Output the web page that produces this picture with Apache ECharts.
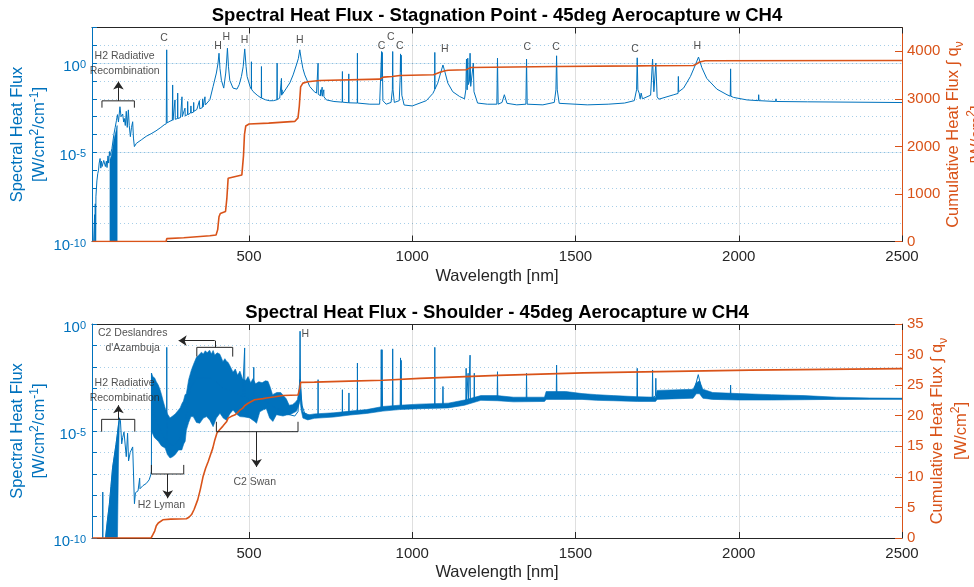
<!DOCTYPE html>
<html><head><meta charset="utf-8">
<script src="https://cdn.jsdelivr.net/npm/echarts@6/dist/echarts.min.js"></script>
<style>html,body{margin:0;padding:0;background:#fff}#c{width:974px;height:587px}</style>
</head><body><div id="c"></div>
<script>
// ---------------- DATA ----------------
// x tick labels (wavelength, nm)
const xTickValues = [500, 1000, 1500, 2000, 2500];
const topDecades = [1e-10,1e-9,1e-8,1e-7,1e-6,1e-5,1e-4,1e-3,1e-2,1e-1,1,10,100];
const botDecades = [1e-10,1e-9,1e-8,1e-7,1e-6,1e-5,1e-4,1e-3,1e-2,1e-1,1];
const logLabelValues = [1e-10, 1e-5, 1];
const topCumTicks = [0, 1000, 2000, 3000, 4000];
const botCumTicks = [0, 5, 10, 15, 20, 25, 30, 35];

// Stagnation point spectrum [wavelength nm, W/cm2/cm-1]
const stagSpectrum = [[20,1e-12],[26,1e-12],[27,3.2e-9],[28,1e-12],[29,1.3e-8],[30,1e-12],[31,3.2e-8],[34,2.5e-7],[36.6,6.3e-7],[39,1e-6],[41,2.5e-6],[43.7,4.5e-6],[46,1.3e-6],[48,3.2e-6],[50,1.6e-6],[52,2e-6],[55,3.5e-6],[57,3.5e-6],[60,1.6e-6],[63,3.2e-6],[65,1.4e-6],[68,6.3e-6],[70,2.5e-6],[72.5,1.1e-5],
[74,6.3e-6],[80,1.6e-5],[86,1e-4],[90,2.5e-4],[94,6.3e-4],[97,1.3e-3],
[100,5e-4],[104.6,3.6e-3],[108,1e-3],[113,1.4e-3],[116,5e-4],[118,7.9e-4],[121,3.2e-4],[124,2e-3],[127,2.5e-4],[130.4,2.4e-3],[133,3.2e-4],[136.5,7.6e-5],[140,2.5e-4],[143.6,5.2e-4],[146,6.3e-5],[148.8,2.1e-5],[155,3.2e-5],[160,3.5e-5],[170,5e-5],[185,7.9e-5],[200,1.1e-4],[215,1.6e-4],[230,2.5e-4],[240,3.5e-4],[246.5,4e-4],[247.8,5.6],[249,4.5e-4],[258,5.6e-4],[265,6.3e-4],[266,6e-2],[267,6.3e-4],[272.5,7.1e-4],[273.2,8.7e-3],[274,7.1e-4],[281,7.9e-4],[281.5,2.1e-2],[282,7.9e-4],[290,8.9e-4],[294.6,1.3e-2],[295.5,1e-3],[303.8,3e-3],[304.5,1.1e-3],[311.5,1.3e-3],[312,7.1e-3],[313,1.3e-3],[321,1.6e-3],[322,4e-3],[323,1.6e-3],[330,1.8e-3],[330.5,6.3e-3],[331,2e-3],[340,2.5e-3],[348,7.9e-3],[349,2.8e-3],[357,3.2e-3],[358,1e-2],[359,3.5e-3],[365,1.3e-2],[366,4.5e-3],[370,5.6e-3],[380,8.9e-3],[390,5e-2],[400,0.28],[405,1],[408,3.6],[411,0.5],[415.4,0.11],[422.5,4e-2],[428.6,0.28],[431,1],[433.8,6.9],[437,0.63],[441,0.11],[451,4e-2],[463,3.5e-2],[470,6.3e-2],[476.7,0.18],[482,0.63],[486.8,6.3],[491,0.63],[494,0.18],[503,5e-2],[507,3.5e-2],[507.3,1.2],[507.7,3.5e-2],[512,2.6e-2],[525,1.6e-2],[537.5,1.1e-2],[538,0.65],[538.5,1.1e-2],[550,8.9e-3],[563,7.8e-3],[575,7.9e-3],[585.5,8.9e-3],[586,1],[586.5,8.9e-3],[594,1.1e-2],[599,1.4e-2],[599.3,0.14],[600,1.6e-2],[601,3.2e-2],[602,1.8e-2],[614.6,4e-2],[625,7.9e-2],[635,0.22],[645,0.79],[651,1.8],[655.4,5.6],[660,1.6],[665,0.5],[670.7,0.22],[686,4.9e-2],[700,2.5e-2],[706.6,2.1e-2],[711,1.8e-2],[711.5,1],[712,1.8e-2],[718.5,1.5e-2],[719,3.2e-2],[719.5,1.5e-2],[723.5,1.4e-2],[724,4.5e-2],[724.5,1.4e-2],[728.5,1.3e-2],[729,3.2e-2],[729.5,1.3e-2],[737,8.7e-3],[760,7.1e-3],[785.5,6.5e-3],[786,0.34],[786.5,6.5e-3],[805,6e-3],[805.5,0.25],[806,6e-3],[831.5,5.8e-3],[832,3.6],[832.5,5.8e-3],[870,5e-3],[900,5e-3],[904,6.3e-3],[906,4.5],[907,0.1],[908,4],[910,7.9e-3],[920,5e-3],[935,6.3e-3],[939,3.2e-2],[940,4.5],[941,3.2e-2],[945,6.3e-3],[960,7.9e-3],[963,0.16],[964,3.3],[965,0.32],[966,2.8],[968,1.6e-2],[975,4.5e-3],[1000,4e-3],[1043,7.9e-3],[1063,2e-2],[1068.5,3.2e-2],[1069,4],[1069.5,3.5e-2],[1078,7.6e-2],[1086,0.25],[1094,0.79],[1100,0.32],[1109,7.6e-2],[1124,2.5e-2],[1145,1.35e-2],[1160,1e-2],[1164,3.2e-2],[1166,1.7],[1168,3.2e-2],[1170,1.9],[1172,6.3e-2],[1175,0.1],[1177,3.6],[1179,5e-2],[1185,4e-2],[1187,1],[1189,2.5e-2],[1200,5.8e-3],[1230,5e-3],[1259,5e-3],[1261,1.9],[1263,5e-3],[1275,6.3e-3],[1282,1.7e-2],[1290,5.6e-3],[1320,4.6e-3],[1348,5e-3],[1350,1.7],[1352,5e-3],[1400,4.6e-3],[1435,6.3e-3],[1440,3.2e-2],[1442,2.6],[1444,3.2e-2],[1450,5.6e-3],[1536,4.6e-3],[1600,5e-3],[1650,5.8e-3],[1680,7.9e-3],[1687,3.2e-2],[1689,2],[1691,3.2e-2],[1695,2.1e-2],[1698,1e-2],[1701,2.1e-2],[1705,1e-2],[1730,1.6e-2],[1736,1.7],[1740,2.5e-2],[1746,1],[1750,1.3e-2],[1755,9.5e-3],[1801,1.7e-2],[1814,2e-2],[1815,0.18],[1816,2.5e-2],[1831,4e-2],[1852,0.18],[1867,0.79],[1876.7,2.2],[1887,0.56],[1902,0.14],[1933,3.5e-2],[1964,1.7e-2],[1974,1.4e-2],[1975,0.48],[1976,1.4e-2],[1984,1.2e-2],[2025,8.7e-3],[2060,7.9e-3],[2061,1.7e-2],[2062,7.9e-3],[2113,7.1e-3],[2114,1e-2],[2115,7.1e-3],[2210,6.8e-3],[2500,6.2e-3]];
// dense H2 radiative-recombination block (upper / lower envelope)
const stagBandUpper = [[74,4e-6],[76,5e-6],[78,6.3e-6],[82,1.6e-5],[86,5e-5],[90,1e-4],[94,2e-4],[96,3.2e-4]];
const stagBandLower = [[74,1e-10],[96,1e-10]];
// cumulative heat flux, stagnation [nm, W/cm2]
const stagCumulative = [[20,0],[246,0],[248,60],[300,80],[380,120],[399,137],[404,250],[408,520],[412,590],[428,630],[432,900],[436,1330],[440,1370],[478,1400],[483,1800],[486,2250],[490,2430],[500,2470],[560,2490],[640,2525],[650,2600],[654,2850],[658,3250],[665,3330],[680,3360],[717,3385],[900,3414],[906,3440],[912,3456],[938,3470],[942,3485],[962,3492],[1065,3505],[1070,3540],[1085,3560],[1100,3589],[1110,3600],[1165,3612],[1172,3635],[1180,3659],[1440,3680],[1445,3688],[1690,3692],[1736,3697],[1861,3701],[1870,3730],[1880,3775],[1897,3800],[2500,3806]];

// Shoulder spectrum centre trace with lines
const shoulderSpectrum = [[20,1e-12],[51.5,1e-12],[52,1.4e-8],[52.5,1e-12],[58,1e-12],[62,1.6e-10],[66,6.3e-10],[72,3.6e-9],[77,2.5e-8],[82,1.9e-7],[87,6.3e-7],[92.4,2.3e-6],[97,7.9e-6],[102.8,4.1e-5],[106,3.2e-5],[110,2.5e-6],[113,5e-6],[117,8.9e-6],[121,1.1e-5],[124,6.3e-7],[128,7.9e-6],[131,4e-7],[136,1e-6],[143.6,1.8e-6],[149,4e-9],[152,1.3e-8],[160,1.6e-8],[165,6.3e-8],[166,2e-8],[175,2.8e-8],[185,3.5e-8],[194,5.2e-8],[199,8.9e-8],[201,1.3e-7],[201.5,5e-3],
[205,1e-4],[220,2e-5],[240,5e-6],[247.5,3e-6],[248,8.1e-2],[248.5,3e-6],[270,2e-6],[290,5e-6],[300,1e-5],[320,1e-3],[340,3e-3],[360,3e-3],[380,3e-3],[400,2e-3],[420,1e-3],[440,8e-4],[460,6e-4],[480,4e-4],[486,4e-4],[486.6,7.6e-2],[487.2,4e-4],[500,3e-4],[514,2e-4],[514.5,9.5e-3],[515,2e-4],[540,3e-4],[560,2e-4],[580,1.2e-4],[600,1e-4],[620,6e-5],[640,5e-5],[650,8e-5],[655,2e-3],[656.3,0.46],[657.5,2e-3],[662,1.6e-4],[670,7e-5],[690,5e-5],[711,5.2e-5],[711.5,2.5e-3],[712,5.2e-5],[760,5.5e-5],[785.5,6e-5],[786,8.5e-4],[786.5,6e-5],[805.5,6.5e-5],[806,6e-4],[806.5,6.5e-5],[831.5,7e-5],[832,1.5e-2],[832.5,7e-5],[880,8.5e-5],[904,9.5e-5],[905,6.3e-2],[906,1e-4],[907.5,6.3e-2],[909,1e-4],[939,1.1e-4],[940,6.9e-2],[941,1.1e-4],[963,1.2e-4],[964,2.6e-2],[965,1.2e-4],[966,2e-2],[967,1.2e-4],[1020,1.4e-4],[1068.5,1.5e-4],[1069,8.1e-2],[1069.5,1.5e-4],[1093,1.5e-4],[1094,1.2e-3],[1095,1.5e-4],[1164,2e-4],[1165,8.5e-3],[1166,2e-4],[1170,2.1e-4],[1171,5e-3],[1172,2.1e-4],[1176,2.2e-4],[1177,3.5e-2],[1178,2.2e-4],[1189,2.5e-4],[1190,5e-3],[1191,2.5e-4],[1210,3.5e-4],[1260,3.4e-4],[1261,5.9e-3],[1262,3.4e-4],[1310,2.9e-4],[1349,3e-4],[1350,5e-3],[1351,3e-4],[1405,3e-4],[1410,5e-4],[1441,4.5e-4],[1442,1.2e-2],[1443,4.5e-4],[1520,4.2e-4],[1616,3.3e-4],[1688,3e-4],[1689,8.5e-3],[1690,3e-4],[1735,3.6e-4],[1736,7.1e-3],[1737,3.6e-4],[1745,4.5e-4],[1746,2.9e-3],[1747,4.5e-4],[1860,5e-4],[1876,4.3e-3],[1890,5e-4],[1920,4.2e-4],[1974,3.8e-4],[1975,1.4e-3],[1976,3.8e-4],[2100,3.4e-4],[2300,3.2e-4],[2500,3.2e-4]];
// dense bands of the shoulder spectrum: upper and lower envelopes
const shoulderRecombUpper = [[60,1e-10],[66,6.3e-10],[72,3.6e-9],[77,2.5e-8],[82,1.9e-7],[87,6.3e-7],[92.4,2.3e-6],[97,7.9e-6],[100,2e-5],[102.8,4.1e-5]];
const shoulderRecombLower = [[60,1e-10],[97,1e-10],[100,3.2e-7],[102.8,2.5e-5]];
const shoulderBandUpper = [[201,5e-3],[205,3.5e-3],[211,3e-3],[216,2e-3],[222,1.4e-3],[227,8.9e-4],[232,5e-4],[237,2.5e-4],[243,1.2e-4],[250,6.3e-5],[258,4.1e-5],[266,5e-5],[274,6.3e-5],[282,8.9e-5],[289,1.2e-4],[295,2e-4],[299,2.5e-4],[304,5e-4],[308,5.5e-4],[315,2.5e-3],[323,6.8e-3],[330,1.3e-2],[339,2.8e-2],[346,3.5e-2],[354,4.8e-2],[360,4e-2],[366,5.6e-2],[372,4.5e-2],[379,6e-2],[385,4e-2],[390,5.8e-2],[395,3.5e-2],[402,4.5e-2],[410,4e-2],[416,2.5e-2],[420,1.7e-2],[426,2.4e-2],[431,1.8e-2],[436,1.6e-2],[443,1e-2],[451,5.6e-3],[458,7.9e-3],[465,4e-3],[472,6.3e-3],[480,2.8e-3],[490,2.3e-3],[497,3.5e-3],[505,1.8e-3],[512,2.8e-3],[520,1.6e-3],[530,2e-3],[540,1.8e-3],[550,2.2e-3],[558,2.1e-3],[565,1.1e-3],[572,5e-4],[585,6.3e-4],[597,6.3e-4],[605,4.5e-4],[614,3.2e-4],[623,1.6e-4],[633,1.7e-4],[642,2.2e-4],[648,2.9e-4],[652,6.3e-4],[656,2.5e-3]];
const shoulderBandLower = [[201,1e-5],[210,5e-6],[222,3.3e-6],[232,2e-6],[243,1.6e-6],[250,7.9e-7],[258,5.5e-7],[266,6.3e-7],[274,7.9e-7],[284,1.3e-6],[294,1.3e-6],[300,2.5e-6],[304.5,3.3e-6],[308,1.1e-5],[315,2.5e-5],[322,4.7e-5],[329,4.7e-5],[339,2.5e-5],[349,2.3e-5],[360,4e-5],[370,4.7e-5],[380,3.2e-5],[390,1.6e-5],[400,4e-5],[411,6.8e-5],[421,4e-5],[431,3.2e-5],[441,6.3e-5],[451,9.5e-5],[461,6.3e-5],[472,4.7e-5],[487,4.5e-5],[502,4.1e-5],[517,2.8e-5],[523,2.3e-5],[533,7.9e-5],[545,1e-4],[553,1.1e-4],[563,4.1e-5],[573,2.8e-5],[584,5.8e-5],[604,5e-5],[615,5.6e-5],[625,5.8e-5],[645,8.3e-5],[653,1.7e-4],[656,2.5e-4]];
const shoulderContUpper = [[656,2.5e-3],[660,3.5e-4],[665,7.9e-5],[680,5.6e-5],[700,6.3e-5],[760,7.1e-5],[810,8.5e-5],[860,1e-4],[910,1.4e-4],[960,1.6e-4],[1020,1.8e-4],[1110,2e-4],[1160,2.8e-4],[1210,4.5e-4],[1260,4.5e-4],[1310,3.8e-4],[1405,3.8e-4],[1410,7e-4],[1470,7e-4],[1520,5.6e-4],[1565,5e-4],[1616,4.5e-4],[1690,4e-4],[1745,3.8e-4],[1750,7.9e-4],[1860,8.9e-4],[1870,1.8e-3],[1880,2.2e-3],[1890,9e-4],[1920,6.3e-4],[2000,5.6e-4],[2100,5e-4],[2200,4.5e-4],[2300,3.8e-4],[2400,3.5e-4],[2500,3.4e-4]];
const shoulderContLower = [[656,3e-4],[660,8.9e-5],[665,4e-5],[680,3.3e-5],[700,3.9e-5],[760,4.5e-5],[810,5.6e-5],[860,6.6e-5],[910,8.5e-5],[960,1e-4],[1020,1.1e-4],[1110,1.2e-4],[1160,1.6e-4],[1210,2.7e-4],[1260,2.6e-4],[1310,2.3e-4],[1405,2.4e-4],[1410,3e-4],[1470,3e-4],[1520,3e-4],[1565,2.7e-4],[1616,2.6e-4],[1690,2.4e-4],[1745,2.4e-4],[1750,3e-4],[1860,3.4e-4],[1870,5.5e-4],[1880,5.5e-4],[1890,3.4e-4],[1920,3e-4],[2000,2.8e-4],[2100,2.8e-4],[2200,2.9e-4],[2300,3e-4],[2400,3.05e-4],[2500,3.05e-4]];
// cumulative heat flux, shoulder [nm, W/cm2]
const shoulderCumulative = [[20,0],[200,0],[205,0.5],[211,1.14],[216,2.0],[222,2.45],[227,2.65],[236,2.98],[260,3.08],[308,3.15],[316,3.4],[324,3.84],[332,4.7],[339,5.7],[343,6.28],[351,8.0],[359,10.0],[367,11.4],[375,12.5],[382,13.6],[389,14.7],[395,16.0],[402,17.2],[410,17.7],[420,18.3],[431,19.0],[436,19.6],[446,19.9],[456,20.1],[465,20.5],[472,20.9],[480,21.2],[486,21.6],[496,22.0],[502,22.2],[517,22.6],[543,22.8],[553,22.9],[580,23.1],[604,23.3],[650,23.4],[654,23.7],[656,24.6],[658,25.45],[700,25.5],[807,25.66],[911,25.8],[1023,26.1],[1263,26.6],[1524,27.0],[2035,27.45],[2500,27.7]];

// annotation texts [wavelength, flux, text]
const stagLineLabels = [[239.5,27,'C'],[405,9.3,'H'],[430.7,29,'H'],[486,20,'H'],[655.4,20,'H'],[905.8,8.5,'C'],[934.3,29,'C'],[962,8.5,'C'],[1099.8,6.2,'H'],[1352,7.6,'C'],[1440,7.6,'C'],[1682,6.2,'C'],[1873,8.5,'H']];
const stagNotes = [[119,1,'H2 Radiative\nRecombination']];
const shoulderNotes = [[143.6,0.164,"C2 Deslandres\nd'Azambuja"],[119,7.9e-4,'H2 Radiative\nRecombination'],[231.5,3.5e-9,'H2 Lyman'],[517.5,4.3e-8,'C2 Swan']];
const shoulderLineLabels = [[660.6,0.32,'H']];
// brackets and arrows (data coordinates)
const stagBracket = [[49.5,3.2e-3],[49.5,7.7e-3],[148.8,7.7e-3],[148.8,3.2e-3]];
const stagArrows = [[[100,7.7e-3],[100,9.3e-2]]];
const recombBracket = [[48.5,9.3e-6],[48.5,3.5e-5],[150,3.5e-5],[150,9.3e-6]];
const lymanBracket = [[201,2.6e-7],[201,9.8e-8],[300,9.8e-8],[300,2.6e-7]];
const swanBracket = [[400,2.7e-5],[400,9.3e-6],[650,9.3e-6],[650,2.7e-5]];
const deslBracket = [[340,3e-2],[340,8.1e-2],[450,8.1e-2],[450,3e-2]];
const deslConnector = [[395,8.1e-2],[395,0.166]];
const shoulderArrows = [[[100,3.5e-5],[100,1.6e-4]],[[251,9.8e-8],[251,7.2e-9]],[[523,9.3e-6],[523,2.1e-7]],[[395,0.166],[284.5,0.166]]];

// ---------------- CHART ----------------
const BLUE = '#0072BD', ORANGE = '#D95319', INK = '#262626';
const FONT = '"Liberation Sans", Arial, Helvetica, sans-serif';
const chart = echarts.init(document.getElementById('c'), null, {renderer: 'canvas'});

const supRich = (color) => ({
  b: {fontSize: 15, color: color, fontFamily: FONT, lineHeight: 15, padding: [8, 0, 0, 0]},
  s: {fontSize: 11, color: color, fontFamily: FONT, lineHeight: 11, verticalAlign: 'top', padding: [4, 0, 0, 0]}
});
function xAxisDef(gi, pos) {
  const bottom = pos === 'bottom';
  return {
    type: 'value', gridIndex: gi, position: pos, min: 19, max: 2500,
    axisLine: {show: true, onZero: false, lineStyle: {color: INK, width: 1}},
    axisTick: {show: true, inside: true, length: 6, customValues: xTickValues, lineStyle: {color: INK}},
    axisLabel: {show: bottom, customValues: xTickValues, margin: 8, color: INK, fontSize: 15, fontFamily: FONT, formatter: v => String(v)},
    splitLine: {show: bottom, lineStyle: {color: 'rgba(38,38,38,0.15)', width: 1}},
    name: bottom ? 'Wavelength [nm]' : '', nameLocation: 'middle', nameGap: 26, nameMoveOverlap: false,
    nameTextStyle: {color: INK, fontSize: 16.5, fontFamily: FONT}
  };
}
function logAxisDef(gi, max, decades) {
  return {
    type: 'log', logBase: 10, gridIndex: gi, position: 'left', min: 1e-10, max: max,
    axisLine: {show: true, onZero: false, lineStyle: {color: BLUE, width: 1}},
    axisTick: {show: true, inside: true, length: 5, customValues: decades, lineStyle: {color: BLUE}},
    axisLabel: {customValues: logLabelValues, margin: 6, formatter: v => '{b|10}{s|' + Math.round(Math.log10(v)) + '}', rich: supRich(BLUE)},
    splitLine: {show: true, lineStyle: {type: [1, 3], color: 'rgba(0,114,189,0.35)', width: 1}},
    name: '{n|Spectral Heat Flux}\n{n|[W/cm}{s|2}{n|/cm}{s|-1}{n|]}',
    nameLocation: 'middle', nameRotate: 90, nameGap: 41, nameMoveOverlap: false,
    nameTextStyle: {color: BLUE, fontSize: 16.5, fontFamily: FONT, rich: {
      n: {fontSize: 16.5, color: BLUE, fontFamily: FONT, lineHeight: 22.5},
      s: {fontSize: 12, color: BLUE, fontFamily: FONT, lineHeight: 12, verticalAlign: 'top'}
    }}
  };
}
function majorLogAxisDef(gi, max) {
  return {
    type: 'log', logBase: 10, gridIndex: gi, position: 'left', min: 1e-10, max: max,
    axisLine: {show: false}, axisLabel: {show: false},
    axisTick: {show: false, customValues: [1e-5, 1]},
    splitLine: {show: true, lineStyle: {type: 'solid', color: 'rgba(0,114,189,0.15)', width: 1}}
  };
}
function cumAxisDef(gi, max, ticks, gap) {
  return {
    type: 'value', gridIndex: gi, position: 'right', min: 0, max: max,
    axisLine: {show: true, onZero: false, lineStyle: {color: ORANGE, width: 1}},
    axisTick: {show: true, inside: true, length: 7, customValues: ticks, lineStyle: {color: ORANGE}},
    axisLabel: {customValues: ticks, margin: 5, color: ORANGE, fontSize: 15, fontFamily: FONT, formatter: v => String(v)},
    splitLine: {show: false},
    name: '{n|Cumulative Heat Flux \u222B q}{u|\u03BD}\n{n|[W/cm}{s|2}{n|]}',
    nameLocation: 'middle', nameRotate: 90, nameGap: gap, nameMoveOverlap: false,
    nameTextStyle: {color: ORANGE, fontSize: 16.5, fontFamily: FONT, rich: {
      n: {fontSize: 16.5, color: ORANGE, fontFamily: FONT, lineHeight: 23.5},
      s: {fontSize: 12, color: ORANGE, fontFamily: FONT, lineHeight: 12, verticalAlign: 'top'},
      u: {fontSize: 12, color: ORANGE, fontFamily: FONT, lineHeight: 12, verticalAlign: 'bottom'}
    }}
  };
}
function lineSeries(xi, yi, data, color, width, z) {
  return {type: 'line', xAxisIndex: xi, yAxisIndex: yi, data: data, showSymbol: false, symbol: 'none',
    lineStyle: {color: color, width: width}, itemStyle: {color: color}, silent: true, clip: true, z: z, animation: false};
}
function bandSeries(xi, yi, upper, lower) {
  return {
    type: 'custom', xAxisIndex: xi, yAxisIndex: yi, silent: true, clip: true, z: 2,
    data: [upper[0]],
    renderItem: function (params, api) {
      const pts = upper.map(p => api.coord(p)).concat(lower.slice().reverse().map(p => api.coord(p)));
      return {type: 'polygon', shape: {points: pts}, style: {fill: BLUE, stroke: BLUE, lineWidth: 0.6}};
    }
  };
}
function annotSeries(xi, yi, poly, arrows, connectors) {
  const ml = [];
  (arrows || []).forEach(a => ml.push([{coord: a[0], symbol: 'none'}, {coord: a[1], symbol: 'arrow'}]));
  (connectors || []).forEach(a => ml.push([{coord: a[0], symbol: 'none'}, {coord: a[1], symbol: 'none'}]));
  const s = lineSeries(xi, yi, poly, INK, 1, 6);
  if (ml.length) {
    s.markLine = {silent: true, animation: false, symbolSize: 8, label: {show: false},
      lineStyle: {color: INK, width: 1, type: 'solid'}, emphasis: {disabled: true}, data: ml};
  }
  return s;
}
function textSeries(xi, yi, items, align) {
  return {
    type: 'scatter', xAxisIndex: xi, yAxisIndex: yi, silent: true, z: 7, symbolSize: 1,
    itemStyle: {color: 'rgba(0,0,0,0)'},
    data: items.map(t => ({value: [t[0], t[1]], name: t[2]})),
    label: {show: true, position: 'inside', formatter: '{b}', color: INK, fontSize: 10.5, fontFamily: FONT,
      lineHeight: 15, align: align || 'center', verticalAlign: 'middle'}
  };
}

const option = {
  animation: false,
  backgroundColor: '#ffffff',
  textStyle: {fontFamily: FONT},
  title: [
    {text: 'Spectral Heat Flux - Stagnation Point - 45deg Aerocapture w CH4', left: 497, top: 6, padding: 0, textAlign: 'center',
      textStyle: {fontSize: 18.5, fontWeight: 'bold', color: '#000', fontFamily: FONT}},
    {text: 'Spectral Heat Flux - Shoulder - 45deg Aerocapture w CH4', left: 497, top: 303, padding: 0, textAlign: 'center',
      textStyle: {fontSize: 18.5, fontWeight: 'bold', color: '#000', fontFamily: FONT}}
  ],
  grid: [
    {left: 92, right: 72, top: 27.5, height: 214, outerBoundsMode: 'none', containLabel: false},
    {left: 92, right: 72, top: 324, height: 214, outerBoundsMode: 'none', containLabel: false}
  ],
  xAxis: [xAxisDef(0, 'bottom'), xAxisDef(0, 'top'), xAxisDef(1, 'bottom'), xAxisDef(1, 'top')],
  yAxis: [
    logAxisDef(0, 100, topDecades),
    cumAxisDef(0, 4500, topCumTicks, 40),
    majorLogAxisDef(0, 100),
    logAxisDef(1, 1, botDecades),
    cumAxisDef(1, 35, botCumTicks, 24),
    majorLogAxisDef(1, 1)
  ],
  series: [
    bandSeries(0, 0, stagBandUpper, stagBandLower),
    lineSeries(0, 0, stagSpectrum, BLUE, 1, 3),
    lineSeries(0, 1, stagCumulative, ORANGE, 1.6, 4),
    annotSeries(0, 0, stagBracket, stagArrows),
    textSeries(0, 0, stagLineLabels),
    textSeries(0, 0, stagNotes),

    bandSeries(2, 3, shoulderRecombUpper, shoulderRecombLower),
    bandSeries(2, 3, shoulderBandUpper, shoulderBandLower),
    bandSeries(2, 3, shoulderContUpper, shoulderContLower),
    lineSeries(2, 3, shoulderSpectrum, BLUE, 1, 3),
    lineSeries(2, 4, shoulderCumulative, ORANGE, 1.6, 4),
    annotSeries(2, 3, recombBracket, [shoulderArrows[0]]),
    annotSeries(2, 3, lymanBracket, [shoulderArrows[1]]),
    annotSeries(2, 3, swanBracket, [shoulderArrows[2]]),
    annotSeries(2, 3, deslBracket, [shoulderArrows[3]], [deslConnector]),
    textSeries(2, 3, shoulderNotes),
    textSeries(2, 3, shoulderLineLabels, 'left')
  ]
};
chart.setOption(option);
</script>
</body></html>
